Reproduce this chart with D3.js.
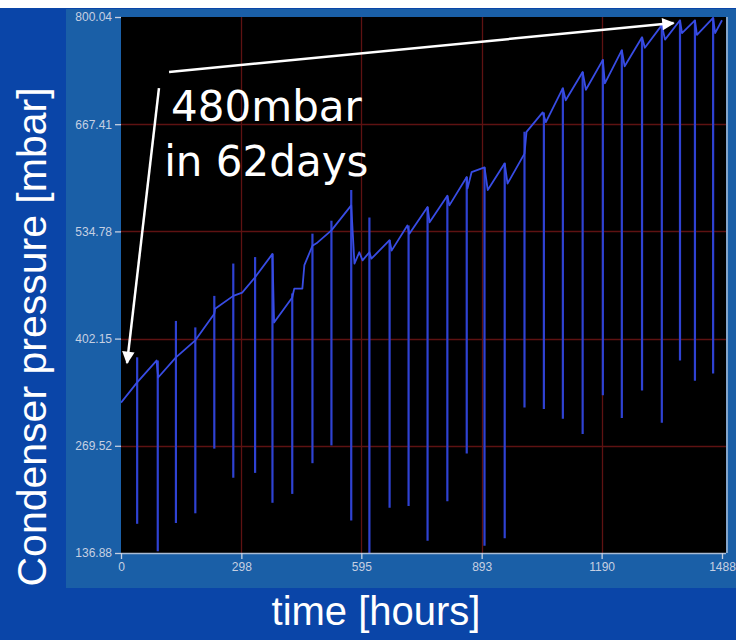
<!DOCTYPE html>
<html>
<head>
<meta charset="utf-8">
<script src="https://cdn.jsdelivr.net/npm/d3@7"></script>
<style>
  html, body { margin: 0; padding: 0; background: #0a45a8; }
  svg { display: block; }
</style>
</head>
<body>
<svg id="chart" width="736" height="640"></svg>
<script>
// ---------- data ----------
const xTicks = [0, 298, 595, 893, 1190, 1488];
const yTicks = [136.88, 269.52, 402.15, 534.78, 667.41, 800.04];

// main sawtooth trace (hours, mbar)
const traceHours = [0, 40, 88, 92, 136, 184, 231, 233, 278, 300, 332, 375, 379, 424, 429, 449, 454, 474, 484, 521,
  570, 578, 590, 598, 615, 620, 665, 670, 709, 714, 759, 764, 808, 813, 856, 858, 868, 900, 908, 950, 957,
  999, 1004, 1044, 1052, 1094, 1101, 1143, 1151, 1193, 1198, 1240, 1247, 1290, 1297, 1339, 1347, 1384, 1389,
  1421, 1426, 1466, 1471, 1488];
const tracePressure = [323, 348, 375, 354, 379, 400, 433, 439, 455, 459, 478, 507, 422, 453, 464, 464, 493, 517, 520, 536,
  567, 495, 509, 499, 509, 501, 524, 511, 542, 532, 565, 546, 579, 567, 602, 588, 608, 614, 586, 619, 594,
  631, 658, 682, 670, 712, 697, 732, 710, 747, 718, 759, 739, 775, 762, 790, 772, 796, 780,
  796, 778, 799, 780, 796];

// regeneration spikes (hours, top mbar, bottom mbar)
const spikeHours  = [40, 91, 136, 184, 231, 278, 332, 375, 424, 474, 521, 570, 615, 665, 712, 759, 808, 856, 900, 950,
  999, 1047, 1094, 1143, 1193, 1240, 1290, 1339, 1384, 1421, 1466];
const spikeTop    = [379, 375, 424, 416, 455, 495, 503, 507, 458, 532, 548, 586, 552, 524, 542, 565, 579, 602, 614, 619,
  658, 682, 712, 732, 747, 759, 775, 790, 796, 796, 799];
const spikeBottom = [173, 139, 174, 186, 266, 230, 236, 199, 210, 248, 270, 177, 137, 193, 195, 152, 201, 260, 146, 155,
  317, 315, 303, 284, 332, 304, 338, 298, 375, 350, 359];

// ---------- layout ----------
const W = 736, H = 640;
const plot = { left: 121, right: 722, top: 17, bottom: 553 };

const svg = d3.select("#chart");

const x = d3.scaleLinear().domain([0, 1488]).range([plot.left, plot.right]);
const y = d3.scaleLinear().domain([136.88, 800.04]).range([plot.bottom, plot.top]);

// backgrounds
svg.append("rect").attr("x", 0).attr("y", 0).attr("width", W).attr("height", H).attr("fill", "#0a45a8");
svg.append("rect").attr("x", 0).attr("y", 0).attr("width", W).attr("height", 8).attr("fill", "#ffffff");
svg.append("rect").attr("x", 66).attr("y", 9).attr("width", W - 66).attr("height", 579).attr("fill", "#1a5fa7");
svg.append("rect").attr("x", plot.left).attr("y", plot.top)
  .attr("width", plot.right - plot.left + 4).attr("height", plot.bottom - plot.top).attr("fill", "#000000");

// defs
const defs = svg.append("defs");
defs.append("clipPath").attr("id", "clip").append("rect")
  .attr("x", plot.left).attr("y", plot.top)
  .attr("width", plot.right - plot.left + 4).attr("height", plot.bottom - plot.top);
defs.append("marker").attr("id", "ah").attr("viewBox", "0 0 10 10")
  .attr("refX", 9).attr("refY", 5).attr("markerWidth", 6).attr("markerHeight", 5)
  .attr("markerUnits", "strokeWidth").attr("orient", "auto")
  .append("path").attr("d", "M0,0 L10,5 L0,10 Z").attr("fill", "#ffffff");

// grid
const grid = svg.append("g").attr("clip-path", "url(#clip)");
grid.selectAll("line.h").data(yTicks.slice(1, -1)).join("line")
  .attr("x1", plot.left).attr("x2", plot.right + 4)
  .attr("y1", d => Math.round(y(d)) + 0.5).attr("y2", d => Math.round(y(d)) + 0.5)
  .attr("stroke", "#5e1212").attr("stroke-width", 1.3);
grid.selectAll("line.v").data(xTicks.slice(1, -1)).join("line")
  .attr("y1", plot.top).attr("y2", plot.bottom)
  .attr("x1", d => Math.round(x(d)) + 0.5).attr("x2", d => Math.round(x(d)) + 0.5)
  .attr("stroke", "#5e1212").attr("stroke-width", 1.3);

// data
const dataG = svg.append("g").attr("clip-path", "url(#clip)");
const spikes = spikeHours.map((h, i) => [[h, spikeTop[i]], [h, spikeBottom[i]]]);
const line = d3.line().x(d => x(d[0])).y(d => y(d[1]));
dataG.selectAll("path.spike").data(spikes).join("path")
  .attr("class", "spike")
  .attr("d", line)
  .attr("fill", "none")
  .attr("stroke", "#2f42d2")
  .attr("stroke-width", 2.2);
const trace = traceHours.map((h, i) => [h, tracePressure[i]]);
dataG.append("path").datum(trace)
  .attr("d", line)
  .attr("fill", "none")
  .attr("stroke", "#384ce4")
  .attr("stroke-width", 1.8)
  .attr("stroke-linejoin", "round");

// axes
const tickColor = "#c6d0e2";
const yAxis = svg.append("g").attr("transform", `translate(${plot.left},0)`)
  .call(d3.axisLeft(y).tickValues(yTicks).tickFormat(d3.format(".2f")).tickSize(6).tickPadding(3));
yAxis.select(".domain").remove();
const xAxis = svg.append("g").attr("transform", `translate(0,${plot.bottom})`)
  .call(d3.axisBottom(x).tickValues(xTicks).tickFormat(d3.format("d")).tickSize(6).tickPadding(3));
xAxis.select(".domain").attr("d", `M${plot.left},0.5H${plot.right + 4}`)
  .attr("stroke", "#a9bcd6").attr("stroke-width", 1.5);
[yAxis, xAxis].forEach(g => {
  g.selectAll(".tick line").attr("stroke", tickColor).attr("stroke-width", 1.3);
  g.selectAll(".tick text").attr("fill", tickColor)
    .style("font-family", "'Liberation Sans', Arial, sans-serif").style("font-size", "12px");
});
// right frame border
svg.append("line").attr("x1", plot.right + 5).attr("x2", plot.right + 5)
  .attr("y1", plot.top).attr("y2", plot.bottom)
  .attr("stroke", "#a9bcd6").attr("stroke-width", 1.5);

// axis titles
svg.append("text")
  .attr("transform", `translate(46,337) rotate(-90)`)
  .attr("text-anchor", "middle")
  .attr("fill", "#ffffff")
  .style("font-family", "'Liberation Sans', Arial, sans-serif")
  .style("font-size", "41px")
  .text("Condenser pressure [mbar]");
svg.append("text")
  .attr("x", 376).attr("y", 625)
  .attr("text-anchor", "middle")
  .attr("fill", "#ffffff")
  .style("font-family", "'Liberation Sans', Arial, sans-serif")
  .style("font-size", "40px")
  .text("time [hours]");

// annotation (placed in data coordinates)
const arrows = [
  { from: [119, 732], to: [1368, 792.6] },
  { from: [94, 712], to: [15, 372] }
];
svg.selectAll("line.arrow").data(arrows).join("line")
  .attr("class", "arrow")
  .attr("x1", d => x(d.from[0])).attr("y1", d => y(d.from[1]))
  .attr("x2", d => x(d.to[0])).attr("y2", d => y(d.to[1]))
  .attr("stroke", "#ffffff").attr("stroke-width", 2.5)
  .attr("marker-end", "url(#ah)");
const notes = [
  { t: 124, p: 671, text: "480mbar" },
  { t: 107, p: 603, text: "in 62days" }
];
svg.selectAll("text.note").data(notes).join("text")
  .attr("class", "note")
  .attr("x", d => x(d.t)).attr("y", d => y(d.p))
  .attr("fill", "#ffffff")
  .style("font-family", "'DejaVu Sans', sans-serif")
  .style("font-size", "42px")
  .text(d => d.text);
</script>
</body>
</html>
